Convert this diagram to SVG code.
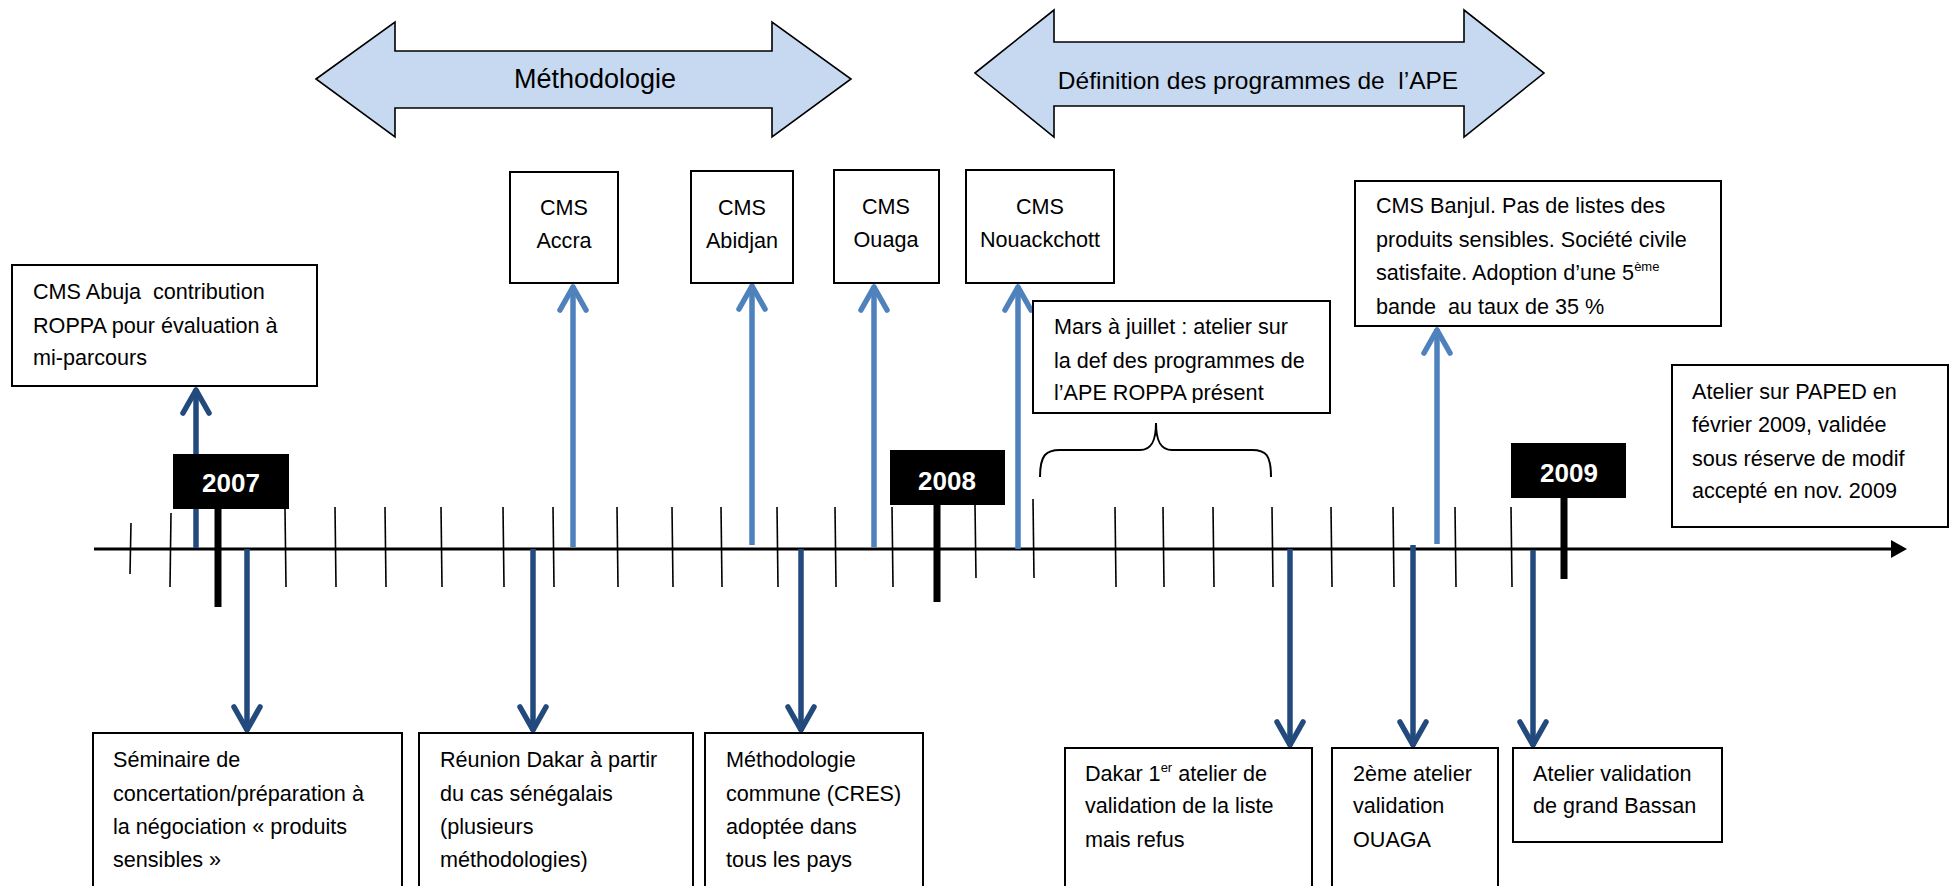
<svg xmlns="http://www.w3.org/2000/svg" width="1957" height="886" viewBox="0 0 1957 886">
<style>
.bg{fill:#fff}
.box{fill:#fff;stroke:#000;stroke-width:2}
.t{font-family:"Liberation Sans",Arial,sans-serif;font-size:21.6px;fill:#000;white-space:pre}
.c{text-anchor:middle}
.sup{font-size:13px}
.big{fill:#c6d9f1;stroke:#000;stroke-width:1.6}
.bt{font-family:"Liberation Sans",Arial,sans-serif;fill:#000;text-anchor:middle;white-space:pre}
.yb{fill:#000}
.yt{font-family:"Liberation Sans",Arial,sans-serif;font-weight:bold;font-size:26px;fill:#fff;text-anchor:middle}
.tick{stroke:#000;stroke-width:1.6}
.axis{stroke:#000;stroke-width:3}
.dk{stroke:#234a7c;stroke-width:5.5;fill:none}
.lt{stroke:#4f81bd;stroke-width:5.5;fill:none}
</style>
<defs>
<marker id="hd" viewBox="-30 -16 34 32" markerWidth="34" markerHeight="32" refX="0" refY="0" orient="auto" markerUnits="userSpaceOnUse">
<path d="M-24,-13 L-1,0 L-24,13" fill="none" stroke="#234a7c" stroke-width="5.5" stroke-linecap="round" stroke-linejoin="round"/>
</marker>
<marker id="hl" viewBox="-30 -16 34 32" markerWidth="34" markerHeight="32" refX="0" refY="0" orient="auto" markerUnits="userSpaceOnUse">
<path d="M-24,-13 L-1,0 L-24,13" fill="none" stroke="#4f81bd" stroke-width="5.5" stroke-linecap="round" stroke-linejoin="round"/>
</marker>
<clipPath id="clipMars"><rect x="1033" y="301" width="297" height="102"/></clipPath>
</defs>
<rect class="bg" x="0" y="0" width="1957" height="886"/>

<g id="methodologie">
<polygon class="big" points="316,79 395,22 395,51 772,51 772,22 851,79 772,137 772,108 395,108 395,137"/>
<text class="bt" x="595" y="88" font-size="27">Méthodologie</text>
</g>
<g id="definition">
<polygon class="big" points="975,73 1054,10 1054,42 1464,42 1464,10 1544,73 1464,137 1464,106 1054,106 1054,137"/>
<text class="bt" x="1258" y="89" font-size="24.5">Définition des programmes de  l’APE</text>
</g>

<g id="timeline">
<line class="axis" x1="94" y1="549" x2="1893" y2="549"/>
<polygon points="1891,540 1907,549 1891,558" fill="#000"/>
<line class="tick" x1="131" y1="523" x2="130" y2="574"/>
<line class="tick" x1="171" y1="513" x2="170" y2="587"/>
<line class="tick" x1="285" y1="509" x2="286" y2="587"/>
<line class="tick" x1="335" y1="507" x2="336" y2="587"/>
<line class="tick" x1="385" y1="507" x2="386" y2="587"/>
<line class="tick" x1="441" y1="507" x2="442" y2="587"/>
<line class="tick" x1="503" y1="507" x2="504" y2="587"/>
<line class="tick" x1="553" y1="507" x2="554" y2="587"/>
<line class="tick" x1="617" y1="507" x2="618" y2="587"/>
<line class="tick" x1="672" y1="507" x2="673" y2="587"/>
<line class="tick" x1="721" y1="507" x2="722" y2="587"/>
<line class="tick" x1="777" y1="507" x2="778" y2="587"/>
<line class="tick" x1="835" y1="507" x2="836" y2="587"/>
<line class="tick" x1="892" y1="507" x2="893" y2="587"/>
<line class="tick" x1="975" y1="505" x2="976" y2="578"/>
<line class="tick" x1="1033" y1="499" x2="1034" y2="578"/>
<line class="tick" x1="1115" y1="507" x2="1116" y2="587"/>
<line class="tick" x1="1163" y1="507" x2="1164" y2="587"/>
<line class="tick" x1="1213" y1="507" x2="1214" y2="587"/>
<line class="tick" x1="1272" y1="507" x2="1273" y2="587"/>
<line class="tick" x1="1331" y1="507" x2="1332" y2="587"/>
<line class="tick" x1="1393" y1="507" x2="1394" y2="587"/>
<line class="tick" x1="1455" y1="507" x2="1456" y2="587"/>
<line class="tick" x1="1511" y1="507" x2="1512" y2="587"/>
</g>

<g id="connectors">
<line class="dk" x1="196" y1="548" x2="196" y2="389" marker-end="url(#hd)"/>
<line class="dk" x1="247" y1="549" x2="247" y2="731" marker-end="url(#hd)"/>
<line class="dk" x1="533" y1="549" x2="533" y2="731" marker-end="url(#hd)"/>
<line class="dk" x1="801" y1="549" x2="801" y2="731" marker-end="url(#hd)"/>
<line class="dk" x1="1290" y1="549" x2="1290" y2="746" marker-end="url(#hd)"/>
<line class="dk" x1="1413" y1="545" x2="1413" y2="746" marker-end="url(#hd)"/>
<line class="dk" x1="1533" y1="550" x2="1533" y2="746" marker-end="url(#hd)"/>
<line class="lt" x1="573" y1="547" x2="573" y2="286" marker-end="url(#hl)"/>
<line class="lt" x1="752" y1="545" x2="752" y2="285" marker-end="url(#hl)"/>
<line class="lt" x1="874" y1="547" x2="874" y2="286" marker-end="url(#hl)"/>
<line class="lt" x1="1018" y1="549" x2="1018" y2="286" marker-end="url(#hl)"/>
<line class="lt" x1="1437" y1="544" x2="1437" y2="329" marker-end="url(#hl)"/>
<path d="M1040,477 C1040,455 1046,450 1060,450 L1140,450 C1152,450 1156,440 1156,423 C1156,440 1160,450 1172,450 L1252,450 C1266,450 1271,455 1271,477" fill="none" stroke="#000" stroke-width="2"/>
</g>

<g id="y2007">
<rect class="yb" x="214.5" y="505" width="7" height="102"/>
<rect class="yb" x="173" y="454" width="116" height="55"/>
<text class="yt" x="231" y="492">2007</text>
</g>
<g id="y2008">
<rect class="yb" x="933.5" y="500" width="7" height="102"/>
<rect class="yb" x="890" y="450" width="115" height="55"/>
<text class="yt" x="947" y="490">2008</text>
</g>
<g id="y2009">
<rect class="yb" x="1560.5" y="494" width="7" height="85"/>
<rect class="yb" x="1511" y="443" width="115" height="55"/>
<text class="yt" x="1569" y="482">2009</text>
</g>

<g id="abuja">
<rect class="box" x="12" y="265" width="305" height="121"/>
<text class="t" x="33" y="299">CMS Abuja  contribution</text>
<text class="t" x="33" y="333">ROPPA pour évaluation à</text>
<text class="t" x="33" y="365">mi-parcours</text>
</g>
<g id="accra">
<rect class="box" x="510" y="172" width="108" height="111"/>
<text class="t c" x="564" y="215">CMS</text>
<text class="t c" x="564" y="248">Accra</text>
</g>
<g id="abidjan">
<rect class="box" x="691" y="171" width="102" height="112"/>
<text class="t c" x="742" y="215">CMS</text>
<text class="t c" x="742" y="248">Abidjan</text>
</g>
<g id="ouaga">
<rect class="box" x="834" y="170" width="105" height="113"/>
<text class="t c" x="886" y="214">CMS</text>
<text class="t c" x="886" y="247">Ouaga</text>
</g>
<g id="nouackchott">
<rect class="box" x="966" y="170" width="148" height="113"/>
<text class="t c" x="1040" y="214">CMS</text>
<text class="t c" x="1040" y="247">Nouackchott</text>
</g>
<g id="mars">
<rect class="box" x="1033" y="301" width="297" height="112"/>
<g clip-path="url(#clipMars)">
<text class="t" x="1054" y="334">Mars à juillet : atelier sur</text>
<text class="t" x="1054" y="368">la def des programmes de</text>
<text class="t" x="1054" y="400">l’APE ROPPA présent</text>
</g>
</g>
<g id="banjul">
<rect class="box" x="1355" y="181" width="366" height="145"/>
<text class="t" x="1376" y="213">CMS Banjul. Pas de listes des</text>
<text class="t" x="1376" y="247">produits sensibles. Société civile</text>
<text class="t" x="1376" y="280">satisfaite. Adoption d’une 5<tspan class="sup" dy="-9">ème</tspan></text>
<text class="t" x="1376" y="314">bande  au taux de 35 %</text>
</g>
<g id="paped">
<rect class="box" x="1672" y="365" width="276" height="162"/>
<text class="t" x="1692" y="399">Atelier sur PAPED en</text>
<text class="t" x="1692" y="432">février 2009, validée</text>
<text class="t" x="1692" y="466">sous réserve de modif</text>
<text class="t" x="1692" y="498">accepté en nov. 2009</text>
</g>
<g id="seminaire">
<rect class="box" x="93" y="733" width="309" height="170"/>
<text class="t" x="113" y="767">Séminaire de</text>
<text class="t" x="113" y="801">concertation/préparation à</text>
<text class="t" x="113" y="834">la négociation « produits</text>
<text class="t" x="113" y="867">sensibles »</text>
</g>
<g id="reunion">
<rect class="box" x="419" y="733" width="274" height="170"/>
<text class="t" x="440" y="767">Réunion Dakar à partir</text>
<text class="t" x="440" y="801">du cas sénégalais</text>
<text class="t" x="440" y="834">(plusieurs</text>
<text class="t" x="440" y="867">méthodologies)</text>
</g>
<g id="methodo-commune">
<rect class="box" x="705" y="733" width="218" height="170"/>
<text class="t" x="726" y="767">Méthodologie</text>
<text class="t" x="726" y="801">commune (CRES)</text>
<text class="t" x="726" y="834">adoptée dans</text>
<text class="t" x="726" y="867">tous les pays</text>
</g>
<g id="dakar1">
<rect class="box" x="1065" y="748" width="247" height="155"/>
<text class="t" x="1085" y="781">Dakar 1<tspan class="sup" dy="-9">er</tspan><tspan dy="9"> atelier de</tspan></text>
<text class="t" x="1085" y="813">validation de la liste</text>
<text class="t" x="1085" y="847">mais refus</text>
</g>
<g id="atelier2">
<rect class="box" x="1332" y="748" width="166" height="155"/>
<text class="t" x="1353" y="781">2ème atelier</text>
<text class="t" x="1353" y="813">validation</text>
<text class="t" x="1353" y="847">OUAGA</text>
</g>
<g id="bassan">
<rect class="box" x="1513" y="748" width="209" height="94"/>
<text class="t" x="1533" y="781">Atelier validation</text>
<text class="t" x="1533" y="813">de grand Bassan</text>
</g>
</svg>
